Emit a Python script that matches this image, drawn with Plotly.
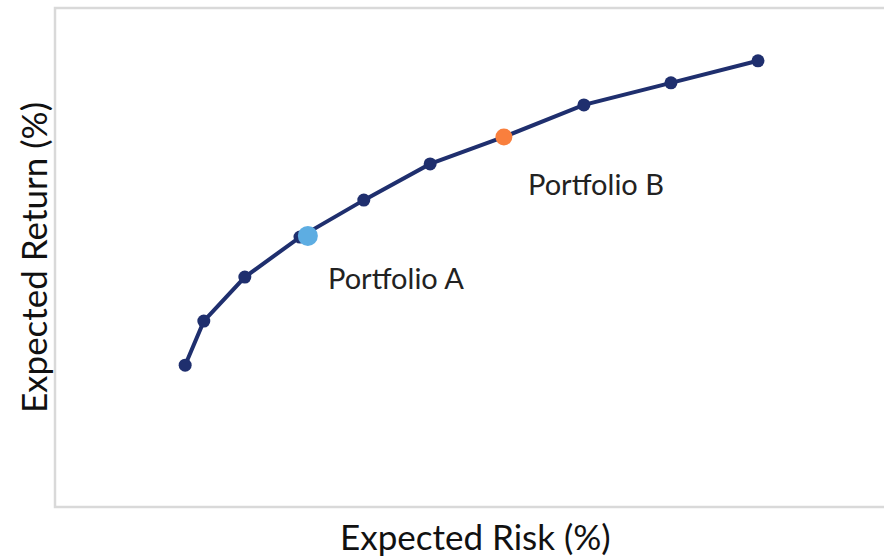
import plotly.graph_objects as go

# efficient frontier points (arbitrary units)
risk = [3.14, 3.59, 4.58, 5.91, 7.45, 9.05, 10.83, 12.76, 14.86, 16.96]
ret = [3.41, 4.47, 5.53, 6.49, 7.38, 8.25, 8.90, 9.67, 10.20, 10.73]

portfolios = ["Portfolio A", "Portfolio B"]
port_risk = [6.10, 10.83]
port_ret = [6.52, 8.90]
port_colors = ["#5DADE2", "#F97F3D"]
label_risk = [6.54, 11.36]
label_ret = [5.53, 7.79]

navy = "#1F2F6E"
font = "Lato"

fig = go.Figure()
fig.add_trace(go.Scatter(
    x=risk, y=ret, mode="lines+markers",
    line=dict(color=navy, width=4),
    marker=dict(color=navy, size=13),
    showlegend=False, hoverinfo="skip",
))
fig.add_trace(go.Scatter(
    x=port_risk, y=port_ret, mode="markers",
    marker=dict(color=port_colors, size=[20, 17], opacity=1,
                line=dict(width=0)),
    showlegend=False, hoverinfo="skip",
))

for name, lx, ly in zip(portfolios, label_risk, label_ret):
    fig.add_annotation(x=lx, y=ly, text=name, showarrow=False,
                       xanchor="left", yanchor="middle",
                       font=dict(family=font, size=29, color="#222222"))

# x title sits centred on the (wider, cut-off) frame
fig.add_annotation(x=0.507, y=-0.058, xref="paper", yref="paper",
                   text="Expected Risk (%)", showarrow=False,
                   xanchor="center", yanchor="middle",
                   font=dict(family=font, size=35, color="#111111"))

# y title as a rotated annotation
fig.add_annotation(x=-0.027, y=0.5, xref="paper", yref="paper",
                   text="Expected Return (%)", showarrow=False, textangle=-90,
                   xanchor="center", yanchor="middle",
                   font=dict(family=font, size=35, color="#111111"))

# open frame: left, bottom and top only, running off the page on the right
fig.add_shape(type="path", xref="paper", yref="paper",
              path="M 1.1,0 L 0,0 L 0,1 L 1.1,1",
              line=dict(color="#D9D9D9", width=2.5))

fig.update_xaxes(range=[0, 20], showgrid=False, zeroline=False,
                 showticklabels=False, ticks="")
fig.update_yaxes(range=[0, 12], showgrid=False, zeroline=False,
                 showticklabels=False, ticks="")

fig.update_layout(
    width=884, height=558,
    margin=dict(l=55, r=0, t=8, b=51, autoexpand=False),
    plot_bgcolor="white", paper_bgcolor="white",
)

# drop the browser's default body margin so the figure fills the window
fig.write_html("out.html", config={"displayModeBar": False},
               post_script="document.body.style.margin='0';")
